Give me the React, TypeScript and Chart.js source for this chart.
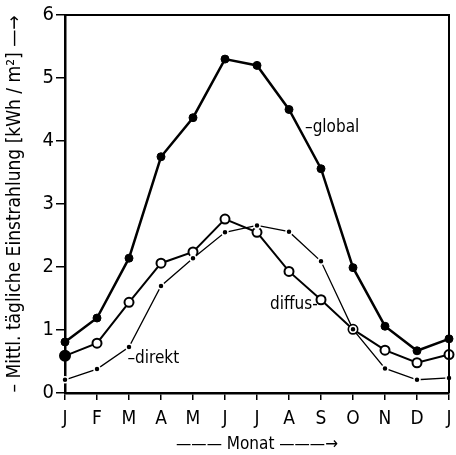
import React, { useEffect, useRef } from "react";
import { Chart, registerables } from "chart.js";

Chart.register(...registerables);

const months = ["J", "F", "M", "A", "M", "J", "J", "A", "S", "O", "N", "D", "J"];
const globalValues = [0.81, 1.19, 2.14, 3.75, 4.37, 5.3, 5.2, 4.5, 3.56, 1.99, 1.06, 0.67, 0.86];
const diffusValues = [0.59, 0.79, 1.44, 2.06, 2.24, 2.76, 2.55, 1.93, 1.48, 1.01, 0.68, 0.48, 0.61];
const direktValues = [0.21, 0.38, 0.73, 1.7, 2.14, 2.55, 2.66, 2.56, 2.09, 1.01, 0.39, 0.21, 0.24];
const yTicks = [0, 1, 2, 3, 4, 5, 6];

const FONT = "'DejaVu Sans Condensed', 'DejaVu Sans', sans-serif";

const seriesLabels = [
  { text: "–global", xi: 7.5, yv: 4.22, align: "left" },
  { text: "diffus-", xi: 7.9, yv: 1.41, align: "right" },
  { text: "–direkt", xi: 1.95, yv: 0.54, align: "left" },
];

const framePlugin = {
  id: "frame",
  afterDatasetsDraw(chart: any) {
    const { ctx, chartArea, scales } = chart;
    ctx.save();
    ctx.strokeStyle = "#000";
    ctx.lineWidth = 2;
    ctx.beginPath();
    ctx.moveTo(chartArea.left, chartArea.top);
    ctx.lineTo(chartArea.right, chartArea.top);
    ctx.lineTo(chartArea.right, chartArea.bottom);
    ctx.stroke();
    ctx.fillStyle = "#000";
    ctx.font = `17px ${FONT}`;
    ctx.textBaseline = "middle";
    for (const l of seriesLabels) {
      ctx.textAlign = l.align as CanvasTextAlign;
      ctx.fillText(l.text, scales.x.getPixelForValue(l.xi), scales.y.getPixelForValue(l.yv));
    }
    ctx.restore();
  },
};

export default function App() {
  const ref = useRef<HTMLCanvasElement>(null);
  useEffect(() => {
    if (!ref.current) return;
    const chart = new Chart(ref.current, {
      type: "line",
      data: {
        labels: months,
        datasets: [
          {
            label: "direkt",
            data: direktValues,
            borderColor: "#000",
            borderWidth: 1.3,
            backgroundColor: "#000",
            pointBackgroundColor: "#000",
            pointBorderColor: "#fff",
            pointBorderWidth: 1.5,
            pointRadius: 3,
            tension: 0,
          },
          {
            label: "diffus",
            data: diffusValues,
            borderColor: "#000",
            borderWidth: 2,
            pointBackgroundColor: diffusValues.map((_, i) => (i === 0 ? "#000" : "#fff")),
            pointBorderColor: "#000",
            pointBorderWidth: 2,
            pointRadius: diffusValues.map((_, i) => (i === 0 ? 5 : 4.5)),
            tension: 0,
          },
          {
            label: "global",
            data: globalValues,
            borderColor: "#000",
            borderWidth: 2.5,
            pointBackgroundColor: "#000",
            pointBorderColor: "#000",
            pointBorderWidth: 1,
            pointRadius: 4,
            tension: 0,
          },
        ],
      },
      options: {
        animation: false,
        responsive: false,
        devicePixelRatio: 1,
        layout: { padding: { top: 15, right: 6, left: 0, bottom: 0 } },
        plugins: { legend: { display: false }, tooltip: { enabled: false } },
        scales: {
          x: {
            type: "category",
            offset: false,
            afterFit: (s: any) => {
              s.height = 62;
              s.paddingLeft = 0;
              s.paddingRight = 0;
            },
            grid: {
              display: true,
              drawOnChartArea: false,
              drawTicks: true,
              tickLength: 7,
              color: "#000",
              lineWidth: 1.5,
            },
            border: { display: true, color: "#000", width: 2.5 },
            ticks: {
              autoSkip: false,
              maxRotation: 0,
              color: "#000",
              font: { size: 19, family: FONT },
              padding: 8,
            },
            title: {
              display: true,
              text: "——— Monat ———→",
              color: "#000",
              font: { size: 17, family: FONT },
              padding: { top: 4, bottom: 0 },
            },
          },
          y: {
            min: 0,
            max: 6,
            afterFit: (s: any) => {
              s.width = 65;
            },
            afterBuildTicks: (s: any) => {
              s.ticks = yTicks.map((v) => ({ value: v }));
            },
            grid: {
              display: true,
              drawOnChartArea: false,
              drawTicks: true,
              tickLength: 9,
              color: "#000",
              lineWidth: 1.5,
            },
            border: { display: true, color: "#000", width: 2.5 },
            ticks: {
              color: "#000",
              font: { size: 20, family: FONT },
              padding: 2,
            },
            title: {
              display: true,
              text: "– Mittl. tägliche Einstrahlung [kWh / m²] —→",
              color: "#000",
              font: { size: 19, family: FONT },
              padding: { top: 4, bottom: 4 },
            },
          },
        },
      },
      plugins: [framePlugin],
    });
    return () => chart.destroy();
  }, []);
  return (
    <div style={{ position: "fixed", left: 0, top: 0, width: 456, height: 455, background: "#fff" }}>
      <canvas ref={ref} width={456} height={455} style={{ width: 456, height: 455 }} />
    </div>
  );
}
